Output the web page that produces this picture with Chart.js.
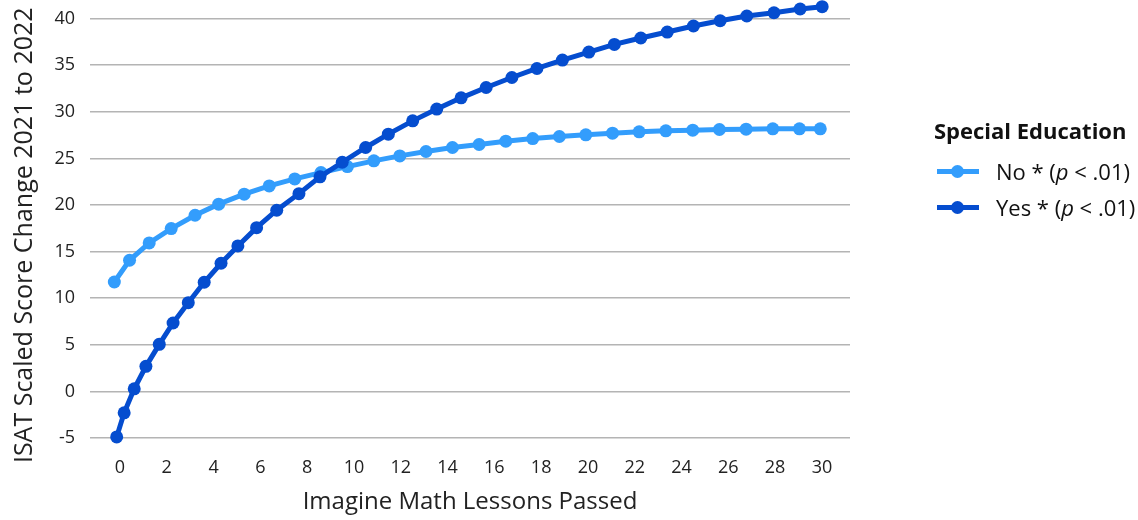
<!DOCTYPE html>
<html>
<head>
<meta charset="utf-8">
<script src="https://cdn.jsdelivr.net/npm/chart.js@4"></script>
<style>
  html, body { margin: 0; padding: 0; background: #ffffff; }
  #wrap { position: relative; width: 1138px; height: 520px; }
  #legend { position: absolute; left: 934px; top: 114px; font-family: 'Open Sans', sans-serif; color: #111; }
  #legend .title { font-weight: bold; font-size: 22px; line-height: 32px; margin-bottom: 7px; }
  #legend .item { display: flex; align-items: center; height: 36px; font-size: 22px; }
  #legend .swatch { position: relative; width: 42px; height: 14px; margin-right: 17px; margin-left: 3px; }
  #legend .swatch .ln { position: absolute; left: 0; right: 0; top: 5px; height: 5px; }
  #legend .swatch .pt { position: absolute; left: 14px; top: 1px; width: 13px; height: 13px; border-radius: 50%; }
</style>
</head>
<body>
<div id="wrap">
  <canvas id="c" width="1138" height="520"></canvas>
  <div id="legend"></div>
</div>
<script>
// ---- data ----
const legendTitle = 'Special Education';
const xAxisTitle = 'Imagine Math Lessons Passed';
const yAxisTitle = 'ISAT Scaled Score Change 2021 to 2022';
const xTickValues = [0, 2, 4, 6, 8, 10, 12, 14, 16, 18, 20, 22, 24, 26, 28, 30];
const yTickValues = [-5, 0, 5, 10, 15, 20, 25, 30, 35, 40];

const noLabel = 'No * (p < .01)';
const noX = [-0.24, 0.41, 1.25, 2.19, 3.21, 4.22, 5.31, 6.38, 7.47, 8.59, 9.72, 10.85, 11.96, 13.08, 14.21, 15.35, 16.49, 17.64, 18.78, 19.91, 21.05, 22.19, 23.33, 24.48, 25.62, 26.76, 27.90, 29.04, 29.93];
const noY = [11.74, 14.07, 15.93, 17.47, 18.90, 20.09, 21.16, 22.05, 22.80, 23.48, 24.12, 24.74, 25.27, 25.74, 26.17, 26.49, 26.85, 27.13, 27.35, 27.53, 27.71, 27.85, 27.96, 28.03, 28.10, 28.14, 28.17, 28.17, 28.17];

const yesLabel = 'Yes * (p < .01)';
const yesX = [-0.14, 0.18, 0.61, 1.11, 1.68, 2.27, 2.92, 3.60, 4.32, 5.04, 5.84, 6.70, 7.65, 8.55, 9.50, 10.50, 11.47, 12.51, 13.54, 14.58, 15.65, 16.75, 17.82, 18.91, 20.04, 21.13, 22.26, 23.39, 24.51, 25.65, 26.79, 27.95, 29.07, 30.01];
const yesY = [-4.88, -2.30, 0.28, 2.69, 5.05, 7.34, 9.52, 11.71, 13.75, 15.61, 17.57, 19.44, 21.22, 23.02, 24.59, 26.17, 27.60, 29.03, 30.29, 31.50, 32.61, 33.68, 34.65, 35.55, 36.41, 37.23, 37.92, 38.56, 39.21, 39.77, 40.28, 40.63, 41.03, 41.28];

// ---- styles ----
const lightBlue = '#339dfc';
const darkBlue = '#054dcf';
const FONT = "'Open Sans', sans-serif";

function pts(xs, ys) { return xs.map((x, i) => ({ x: x, y: ys[i] })); }

const htmlLegend = {
  id: 'htmlLegend',
  afterUpdate(chart) {
    const el = document.getElementById('legend');
    el.innerHTML = '';
    const t = document.createElement('div');
    t.className = 'title';
    t.textContent = legendTitle;
    el.appendChild(t);
    chart.data.datasets.slice().sort((a, b) => a.legendOrder - b.legendOrder).forEach(ds => {
      const item = document.createElement('div');
      item.className = 'item';
      const sw = document.createElement('span');
      sw.className = 'swatch';
      sw.innerHTML = '<span class="ln" style="background:' + ds.borderColor + '"></span><span class="pt" style="background:' + ds.borderColor + '"></span>';
      const txt = document.createElement('span');
      const parts = ds.label.split('(p ');
      txt.appendChild(document.createTextNode(parts[0] + '('));
      const it = document.createElement('i');
      it.textContent = 'p';
      txt.appendChild(it);
      txt.appendChild(document.createTextNode(' ' + parts[1]));
      item.appendChild(sw);
      item.appendChild(txt);
      el.appendChild(item);
    });
  }
};

// y-axis title, drawn slightly below the plot-area centre as in the reference
const yTitlePlugin = {
  id: 'yTitle',
  afterDraw(chart) {
    const ctx = chart.ctx;
    const a = chart.chartArea;
    ctx.save();
    ctx.translate(32, (a.top + a.bottom) / 2 + 13);
    ctx.rotate(-Math.PI / 2);
    ctx.font = "25px " + FONT;
    ctx.fillStyle = '#222';
    ctx.textAlign = 'center';
    ctx.textBaseline = 'alphabetic';
    ctx.fillText(yAxisTitle, 0, 0);
    ctx.restore();
  }
};

new Chart(document.getElementById('c'), {
  type: 'line',
  data: {
    datasets: [
      { label: noLabel, legendOrder: 0, data: pts(noX, noY), borderColor: lightBlue, backgroundColor: lightBlue,
        borderWidth: 5, pointRadius: 6.5, pointBorderWidth: 0, pointHoverRadius: 6.5, tension: 0, order: 2 },
      { label: yesLabel, legendOrder: 1, data: pts(yesX, yesY), borderColor: darkBlue, backgroundColor: darkBlue,
        borderWidth: 5, pointRadius: 6.5, pointBorderWidth: 0, pointHoverRadius: 6.5, tension: 0, order: 1 }
    ]
  },
  options: {
    responsive: false,
    animation: false,
    clip: false,
    layout: { padding: { left: 0, right: 288, top: 0, bottom: 0 } },
    plugins: { legend: { display: false }, tooltip: { enabled: false } },
    scales: {
      x: {
        type: 'linear',
        min: -1.28, max: 31.2,
        afterBuildTicks(s) { s.ticks = xTickValues.map(v => ({ value: v })); },
        afterFit(s) { s.height = 82; s.paddingLeft = 0; s.paddingRight = 0; },
        grid: { display: false, drawTicks: false },
        border: { display: false },
        ticks: { color: '#222', font: { family: FONT, size: 18 }, padding: 19, maxRotation: 0, autoSkip: false },
        title: { display: true, text: xAxisTitle, color: '#222', font: { family: FONT, size: 24 }, padding: { top: 0, bottom: 3 } }
      },
      y: {
        type: 'linear',
        min: -5, max: 41.3,
        afterBuildTicks(s) { s.ticks = yTickValues.map(v => ({ value: v })); },
        afterFit(s) { s.width = 90; s.paddingTop = 0; s.paddingBottom = 0; },
        grid: { color: '#b4b4b4', lineWidth: 1.5, drawTicks: false },
        border: { display: false },
        ticks: { color: '#222', font: { family: FONT, size: 18 }, padding: 15 },
        title: { display: false }
      }
    }
  },
  plugins: [htmlLegend, yTitlePlugin]
});
</script>
</body>
</html>
